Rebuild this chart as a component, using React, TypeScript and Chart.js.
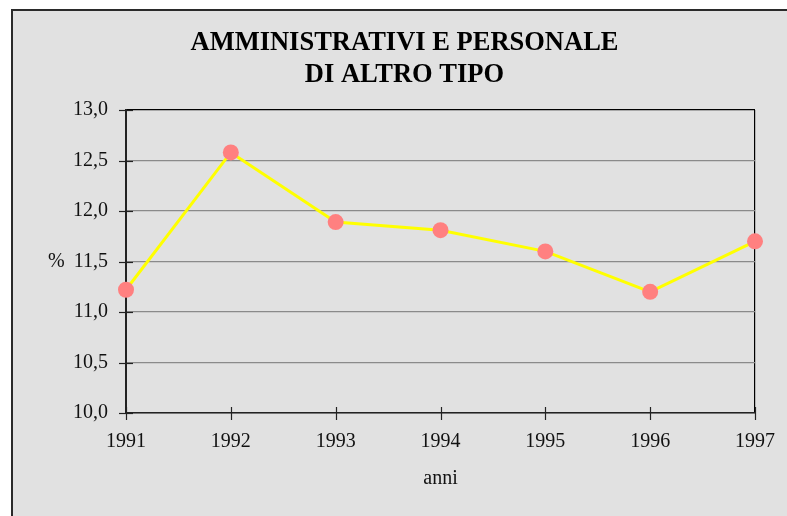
import React, { useEffect, useRef } from "react";
import { Chart, registerables } from "chart.js";

Chart.register(...registerables);

const years: string[] = ["1991", "1992", "1993", "1994", "1995", "1996", "1997"];
const values: number[] = [11.22, 12.58, 11.89, 11.81, 11.6, 11.2, 11.7];
const yMin = 10;
const yMax = 13;
const yStep = 0.5;
const titleLines: string[] = ["AMMINISTRATIVI E PERSONALE", "DI ALTRO TIPO"];
const xTitle = "anni";
const yTitle = "%";

const SERIF = "'Liberation Serif', 'Times New Roman', serif";

const crossTicks = {
  id: "crossTicks",
  afterDatasetsDraw(chart: any) {
    const { ctx, chartArea, scales } = chart;
    const ys = scales.y;
    const xs = scales.x;
    ctx.save();
    ctx.strokeStyle = "#222";
    ctx.lineWidth = 1.2;
    ys.ticks.forEach((_t: any, i: number) => {
      const y = Math.round(ys.getPixelForTick(i)) + 0.5;
      ctx.beginPath();
      ctx.moveTo(chartArea.left - 7, y);
      ctx.lineTo(chartArea.left + 7, y);
      ctx.stroke();
    });
    xs.ticks.forEach((_t: any, i: number) => {
      const x = Math.round(xs.getPixelForTick(i)) + 0.5;
      ctx.beginPath();
      ctx.moveTo(x, chartArea.bottom - 6);
      ctx.lineTo(x, chartArea.bottom + 7);
      ctx.stroke();
    });
    // y axis unit label, drawn horizontally
    ctx.fillStyle = "#111";
    ctx.font = `20px ${SERIF}`;
    ctx.textAlign = "left";
    ctx.textBaseline = "middle";
    ctx.fillText(yTitle, chartArea.left - 78, ys.getPixelForValue((yMin + yMax) / 2));
    ctx.restore();
  },
};

export default function App() {
  const ref = useRef<HTMLCanvasElement | null>(null);

  useEffect(() => {
    if (!ref.current) return;
    const chart = new Chart(ref.current, {
      type: "line",
      data: {
        labels: years,
        datasets: [
          {
            data: values,
            borderColor: "#ffff00",
            borderWidth: 3,
            backgroundColor: "#ff8080",
            pointBackgroundColor: "#ff8080",
            pointBorderWidth: 0,
            pointRadius: 8,
            tension: 0,
            fill: false,
          },
        ],
      },
      options: {
        responsive: false,
        animation: false,
        layout: { padding: { left: 41, right: 41, top: 0, bottom: 0 } },
        plugins: {
          legend: { display: false },
          tooltip: { enabled: false },
          title: {
            display: true,
            text: titleLines,
            color: "#000",
            font: { family: SERIF, size: 26.5, weight: "bold", lineHeight: 1.2 },
            padding: { top: 16, bottom: 19.4 },
          },
        },
        scales: {
          x: {
            type: "category",
            offset: false,
            afterFit: (s: any) => {
              s.height = 103;
            },
            grid: {
              color: (c: any) => (c.index === years.length - 1 ? "#000" : "rgba(0,0,0,0)"),
              lineWidth: 1.2,
              drawTicks: false,
            },
            border: { display: true, color: "#222", width: 1.5 },
            ticks: {
              color: "#111",
              padding: 17,
              maxRotation: 0,
              autoSkip: false,
              font: { family: SERIF, size: 20 },
            },
            title: {
              display: true,
              text: xTitle,
              color: "#111",
              font: { family: SERIF, size: 20 },
              padding: { top: 0, bottom: 25 },
            },
          },
          y: {
            min: yMin,
            max: yMax,
            afterFit: (s: any) => {
              s.width = 72;
            },
            grid: {
              color: (c: any) => (c.tick && c.tick.value === yMax ? "#000" : "#8a8a8a"),
              lineWidth: 1.2,
              drawTicks: false,
            },
            border: { display: true, color: "#222", width: 2 },
            ticks: {
              stepSize: yStep,
              color: "#111",
              padding: 18,
              font: { family: SERIF, size: 20 },
              callback: (v: any) => Number(v).toFixed(1).replace(".", ","),
            },
          },
        },
      },
      plugins: [crossTicks],
    });
    return () => chart.destroy();
  }, []);

  return (
    <div
      style={{
        position: "fixed",
        left: 0,
        top: 0,
        width: 787,
        height: 516,
        overflow: "hidden",
        background: "#fff",
      }}
    >
      <div
        style={{
          position: "absolute",
          left: 11,
          top: 9,
          width: 800,
          height: 530,
          border: "2px solid #2a2a2a",
          background: "#e1e1e1",
          boxSizing: "border-box",
        }}
      >
        <canvas
          ref={ref}
          width={783}
          height={505}
          style={{ display: "block", width: 783, height: 505 }}
        />
      </div>
    </div>
  );
}
